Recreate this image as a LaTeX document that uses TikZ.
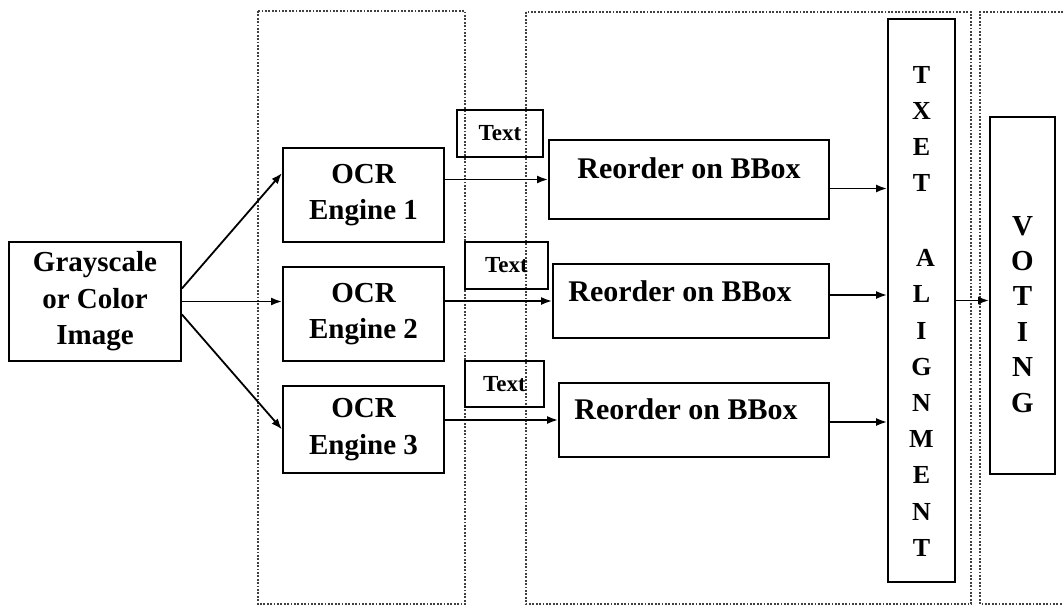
\documentclass[tikz,border=0pt]{standalone}
\usepackage{fontspec}
\setmainfont{Liberation Serif}
\usetikzlibrary{arrows.meta,calc}
\begin{document}
\begin{tikzpicture}[x=1pt,y=-1pt,
  box/.style={draw,line width=1.9pt,inner sep=0pt,align=center,
    font=\fontsize{29}{36.5}\selectfont\bfseries},
  tbox/.style={draw,line width=1.9pt,inner sep=0pt,align=center,
    font=\fontsize{23}{28}\selectfont\bfseries},
  region/.style={draw=black!75,line width=2pt,dash pattern=on 1.8pt off 1.6pt},
  arr/.style={line width=1.8pt,-{Latex[length=11pt,width=8pt]}}]
\useasboundingbox (0,0) rectangle (1063,607);
\fill[white] (0,0) rectangle (1063,607);
% dotted regions
\draw[region] (258,11) rectangle (465,604);
\draw[region] (526,12) rectangle (971,604);
\draw[region] (1063,12) -- (980,12) -- (980,604) -- (1063,604);
% nodes
\node[box,minimum width=172,minimum height=119] (g) at (95,301.5) {Grayscale\\or Color\\Image};
\node[box,minimum width=161,minimum height=94] (o1) at (363.5,195) {OCR\\Engine 1};
\node[box,minimum width=161,minimum height=94] (o2) at (363.5,314) {OCR\\Engine 2};
\node[box,minimum width=161,minimum height=87] (o3) at (363.5,429.5) {OCR\\Engine 3};
\node[tbox,minimum width=86,minimum height=47] (t1) at (500,133.5) {Text};
\node[tbox,minimum width=83,minimum height=47] (t2) at (506.5,265.5) {Text};
\node[tbox,minimum width=79,minimum height=46] (t3) at (504.5,384) {Text};
\node[box,font=\fontsize{30}{36}\selectfont\bfseries,minimum width=280,minimum height=79] (r1) at (689,179.5)
  {\raisebox{11pt}[\height][\depth]{Reorder on BBox}};
\node[box,font=\fontsize{30}{36}\selectfont\bfseries,minimum width=276,minimum height=74] (r2) at (691,301)
  {\raisebox{10pt}[\height][\depth]{\hspace*{-22pt}Reorder on BBox}};
\node[box,font=\fontsize{30}{36}\selectfont\bfseries,minimum width=270,minimum height=74] (r3) at (694,420)
  {\raisebox{11pt}[\height][\depth]{\hspace*{-16pt}Reorder on BBox}};
\node[box,font=\fontsize{26}{36.2}\selectfont\bfseries,minimum width=67,minimum height=563] (al) at (921.5,300.5)
  {\raisebox{-12pt}[\height][\depth]{\begin{tabular}{@{}c@{}}T\\X\\E\\T\\[38.8pt]\hspace*{8pt}A\\L\\I\\G\\N\\M\\E\\N\\T\end{tabular}}};
\node[box,font=\fontsize{29}{35.4}\selectfont\bfseries,minimum width=65,minimum height=357] (v) at (1022.5,295.5)
  {\raisebox{-21pt}[\height][\depth]{\begin{tabular}{@{}c@{}}V\\O\\T\\I\\N\\G\end{tabular}}};
% connectors
\draw[arr] ([yshift=13pt]g.east) -- ([yshift=22pt]o1.west);
\draw[arr] (g.east) -- (g.east -| o2.west);
\draw[arr] ([yshift=-13pt]g.east) -- (o3.west);
\draw[arr] (o1.east |- r1.west) -- (r1.west);
\draw[arr] (o2.east |- r2.west) -- (r2.west);
\draw[arr] (o3.east |- r3.west) -- (r3.west);
\draw[arr] ([yshift=-9pt]r1.east) -- ([yshift=-9pt]r1.east -| al.west);
\draw[arr] ([yshift=6pt]r2.east) -- ([yshift=6pt]r2.east -| al.west);
\draw[arr] ([yshift=-2pt]r3.east) -- ([yshift=-2pt]r3.east -| al.west);
\draw[arr] (al.east) -- (al.east -| v.west);
\end{tikzpicture}
\end{document}
